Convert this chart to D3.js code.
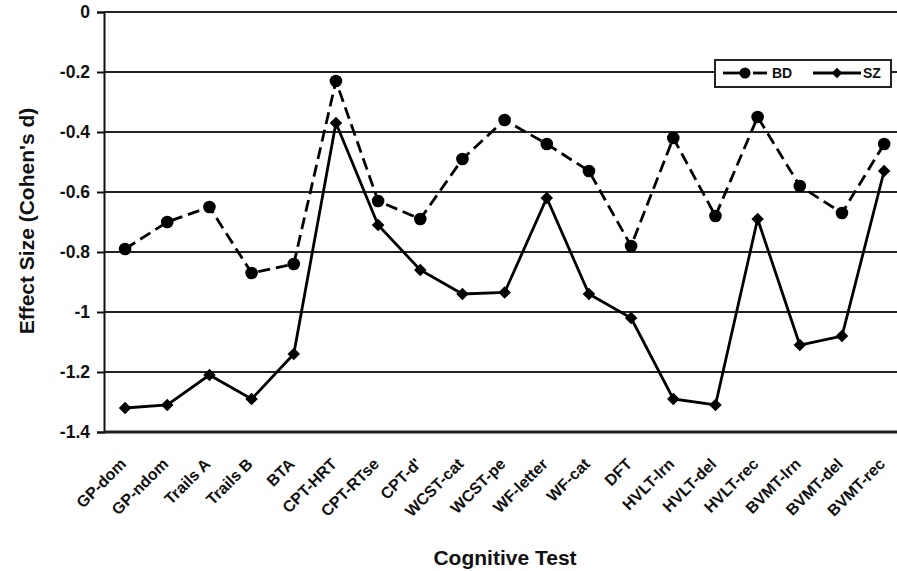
<!DOCTYPE html>
<html>
<head>
<meta charset="utf-8">
<script src="https://cdn.jsdelivr.net/npm/d3@7"></script>
<style>
  body { margin: 0; background: #fff; }
  svg { display: block; font-family: "Liberation Sans", Arial, sans-serif; font-weight: bold; }
</style>
</head>
<body>
<div id="chart"></div>
<script>
var tests = ["GP-dom", "GP-ndom", "Trails A", "Trails B", "BTA", "CPT-HRT", "CPT-RTse", "CPT-d'",
    "WCST-cat", "WCST-pe", "WF-letter", "WF-cat", "DFT", "HVLT-lrn", "HVLT-del", "HVLT-rec",
    "BVMT-lrn", "BVMT-del", "BVMT-rec"];
var bdValues = [-0.79, -0.70, -0.65, -0.87, -0.84, -0.23, -0.63, -0.69, -0.49, -0.36, -0.44, -0.53,
    -0.78, -0.42, -0.68, -0.35, -0.58, -0.67, -0.44];
var szValues = [-1.32, -1.31, -1.21, -1.29, -1.14, -0.37, -0.71, -0.86, -0.94, -0.935, -0.62, -0.94,
    -1.02, -1.29, -1.31, -0.69, -1.11, -1.08, -0.53];
var yTicks = [0, -0.2, -0.4, -0.6, -0.8, -1, -1.2, -1.4];

function drawChart() {
    var width = 897;
    var height = 571;
    var left = 104, top = 12, bottom = 432;
    var bandW = 42.17;

    var svg = d3.select('#chart')
      .append('svg')
        .attr('width', width)
        .attr('height', height);

    var x = d3.scalePoint()
        .domain(tests)
        .range([left + bandW / 2, left + bandW * (tests.length - 0.5)]);

    var y = d3.scaleLinear()
        .domain([-1.4, 0])
        .range([bottom, top]);

    // grid lines
    svg.append('g')
      .selectAll('line')
      .data(yTicks.filter(d => d > -1.4))
      .enter()
      .append('line')
        .attr('x1', left)
        .attr('x2', width)
        .attr('y1', d => y(d))
        .attr('y2', d => y(d))
        .attr('stroke', '#222')
        .attr('stroke-width', 2);

    // y axis
    var yAxis = svg.append('g')
        .attr('transform', `translate(${left},0)`)
        .call(d3.axisLeft(y).tickValues(yTicks).tickSize(7).tickPadding(7)
            .tickFormat(d => String(+d.toFixed(1))));
    yAxis.select('.domain').attr('stroke', '#111').attr('stroke-width', 2);
    yAxis.selectAll('.tick line').attr('stroke', '#111').attr('stroke-width', 2);
    yAxis.selectAll('.tick text')
        .attr('fill', '#111')
        .attr('font-size', '17.5px')
        .attr('font-weight', 'bold')
        .attr('font-family', '"Liberation Sans", Arial, sans-serif');

    // bottom line
    svg.append('line')
        .attr('x1', left)
        .attr('x2', width)
        .attr('y1', y(-1.4))
        .attr('y2', y(-1.4))
        .attr('stroke', '#222')
        .attr('stroke-width', 2.8);

    // x labels
    svg.append('g')
      .selectAll('text')
      .data(tests)
      .enter()
      .append('text')
        .attr('transform', d => `translate(${x(d) + 2},${bottom + 33}) rotate(-45)`)
        .attr('text-anchor', 'end')
        .attr('font-size', '16px')
        .attr('fill', '#111')
        .text(d => d);

    // titles
    svg.append('text')
        .attr('transform', `translate(34,221) rotate(-90)`)
        .attr('text-anchor', 'middle')
        .attr('font-size', '21px')
        .attr('fill', '#111')
        .text("Effect Size (Cohen's d)");

    svg.append('text')
        .attr('x', 505)
        .attr('y', 565)
        .attr('text-anchor', 'middle')
        .attr('font-size', '21px')
        .attr('fill', '#111')
        .text('Cognitive Test');

    var line = d3.line()
        .x((d, i) => x(tests[i]))
        .y(d => y(d));

    svg.append('path')
        .datum(bdValues)
        .attr('d', line)
        .attr('fill', 'none')
        .attr('stroke', '#000')
        .attr('stroke-width', 2.8)
        .attr('stroke-dasharray', '12,6');

    svg.append('path')
        .datum(szValues)
        .attr('d', line)
        .attr('fill', 'none')
        .attr('stroke', '#000')
        .attr('stroke-width', 2.8);

    svg.append('g')
      .selectAll('circle')
      .data(bdValues)
      .enter()
      .append('circle')
        .attr('cx', (d, i) => x(tests[i]))
        .attr('cy', d => y(d))
        .attr('r', 6.3)
        .attr('fill', '#000');

    var diamond = d3.symbol().type(d3.symbolDiamond2).size(100);
    svg.append('g')
      .selectAll('path')
      .data(szValues)
      .enter()
      .append('path')
        .attr('d', diamond)
        .attr('transform', (d, i) => `translate(${x(tests[i])},${y(d)})`)
        .attr('fill', '#000');

    // legend
    var lg = svg.append('g').attr('transform', 'translate(715,60)');
    lg.append('rect')
        .attr('width', 176)
        .attr('height', 27)
        .attr('fill', '#fff')
        .attr('stroke', '#222')
        .attr('stroke-width', 2);
    var ly = 13;
    lg.append('line').attr('x1', 8).attr('x2', 30).attr('y1', ly).attr('y2', ly)
        .attr('stroke', '#000').attr('stroke-width', 2.8);
    lg.append('line').attr('x1', 38).attr('x2', 52).attr('y1', ly).attr('y2', ly)
        .attr('stroke', '#000').attr('stroke-width', 2.8);
    lg.append('circle').attr('cx', 30).attr('cy', ly).attr('r', 5.5).attr('fill', '#000');
    lg.append('text').attr('x', 57).attr('y', ly).attr('dy', '0.36em')
        .attr('font-size', '14px').attr('fill', '#111').text('BD');
    lg.append('line').attr('x1', 98).attr('x2', 146).attr('y1', ly).attr('y2', ly)
        .attr('stroke', '#000').attr('stroke-width', 2.8);
    lg.append('path').attr('d', d3.symbol().type(d3.symbolDiamond2).size(70))
        .attr('transform', `translate(122,${ly})`).attr('fill', '#000');
    lg.append('text').attr('x', 148).attr('y', ly).attr('dy', '0.36em')
        .attr('font-size', '14px').attr('fill', '#111').text('SZ');
}

drawChart();
</script>
</body>
</html>
